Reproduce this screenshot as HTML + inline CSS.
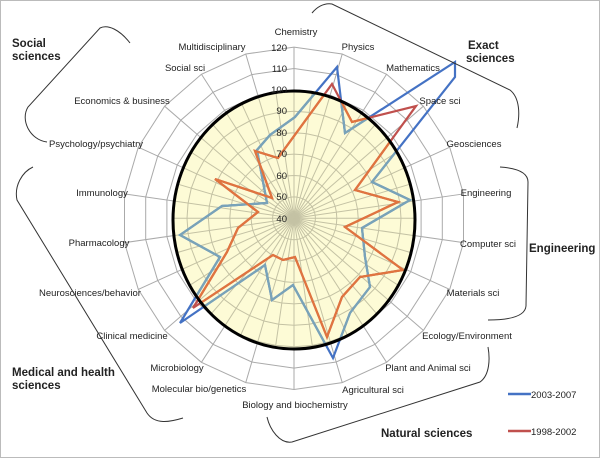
<!DOCTYPE html>
<html><head><meta charset="utf-8"><style>
html,body{margin:0;padding:0;background:#fff}
svg{display:block}
text{font-family:"Liberation Sans",sans-serif;fill:#222}
.l{font-size:9.5px}
.b{font-size:11.5px;font-weight:bold}
.v{font-size:9.5px;fill:#555}
</style></head><body>
<svg id="s" width="600" height="458" viewBox="0 0 600 458" xmlns="http://www.w3.org/2000/svg">
<rect x="0.5" y="0.5" width="599" height="457" fill="#fff" stroke="#bbb"/>
<defs><clipPath id="c"><ellipse cx="294" cy="220" rx="121" ry="129"/></clipPath></defs>
<g id="grid"></g>
<ellipse cx="294" cy="220" rx="121" ry="129" fill="#fdfbd6"/>
<g id="igrid" clip-path="url(#c)"></g>
<g fill="none" stroke-width="2.2" stroke-linejoin="miter">
<polygon stroke="#4472C4" points="295,117 337,67 345,133 455,62 455,77 372,182 410,200 362,228 365,257 370,287 350,313 333,358 293,285 272,300 265,265 180,323 220,257 180,235 222,206 267,203 257,150 270,135"/>
<polygon stroke="#C0504D" points="332,84 352,122 416,106 355,190 398,202 345,227 403,270 360,277 342,297 327,337 295,257 283,260 273,255 193,308 227,252 238,228 258,212 215,179 272,198 255,151 278,158"/>
<g clip-path="url(#c)">
<polygon stroke="#79a3b8" points="295,117 337,67 345,133 455,62 455,77 372,182 410,200 362,228 365,257 370,287 350,313 333,358 293,285 272,300 265,265 180,323 220,257 180,235 222,206 267,203 257,150 270,135"/>
<polygon stroke="#e0743f" points="332,84 352,122 416,106 355,190 398,202 345,227 403,270 360,277 342,297 327,337 295,257 283,260 273,255 193,308 227,252 238,228 258,212 215,179 272,198 255,151 278,158"/>
</g></g>
<ellipse cx="294" cy="220" rx="121" ry="129" fill="none" stroke="#000" stroke-width="3"/>
<g class="v" text-anchor="end">
<text x="287" y="51">120</text><text x="287" y="72">110</text><text x="287" y="93">100</text>
<text x="287" y="114">90</text><text x="287" y="136">80</text><text x="287" y="157">70</text>
<text x="287" y="179">60</text><text x="287" y="200">50</text><text x="287" y="222">40</text>
</g>
<g class="l" text-anchor="middle">
<text x="296" y="35">Chemistry</text>
<text x="358" y="50">Physics</text>
<text x="413" y="71">Mathematics</text>
<text x="440" y="104">Space sci</text>
<text x="474" y="147">Geosciences</text>
<text x="486" y="196">Engineering</text>
<text x="488" y="247">Computer sci</text>
<text x="473" y="296">Materials sci</text>
<text x="467" y="339">Ecology/Environment</text>
<text x="428" y="371">Plant and Animal sci</text>
<text x="373" y="393">Agricultural sci</text>
<text x="295" y="408">Biology and biochemistry</text>
<text x="199" y="392">Molecular bio/genetics</text>
<text x="177" y="371">Microbiology</text>
<text x="132" y="339">Clinical medicine</text>
<text x="90" y="296">Neurosciences/behavior</text>
<text x="99" y="246">Pharmacology</text>
<text x="102" y="196">Immunology</text>
<text x="96" y="147">Psychology/psychiatry</text>
<text x="122" y="104">Economics &amp; business</text>
<text x="185" y="71">Social sci</text>
<text x="212" y="50">Multidisciplinary</text>
</g>
<g class="b">
<text x="12" y="47">Social</text><text x="12" y="60">sciences</text>
<text x="468" y="49">Exact</text><text x="466" y="62">sciences</text>
<text x="529" y="252">Engineering</text>
<text x="381" y="437">Natural sciences</text>
<text x="12" y="376">Medical and health</text><text x="12" y="389">sciences</text>
</g>
<g fill="none" stroke="#333" stroke-width="1">
<path d="M130,43 C120,30 108,24 100,28 L28,107 C20,120 30,140 47,142"/>
<path d="M33,167 C22,172 14,186 17,200 L147,413 C155,425 170,422 183,418"/>
<path d="M267,417 C270,430 280,444 292,442 L480,382 C490,375 490,358 488,347"/>
<path d="M500,167 C515,168 528,172 528,182 L526,306 C525,318 505,320 488,320"/>
<path d="M312,13 C318,6 325,3 332,4 L510,90 C520,98 520,115 517,128"/>
</g>
<line x1="508" y1="394" x2="531" y2="394" stroke="#4472C4" stroke-width="2.5"/>
<line x1="508" y1="431" x2="531" y2="431" stroke="#C0504D" stroke-width="2.5"/>
<text class="l" x="531" y="398">2003-2007</text>
<text class="l" x="531" y="435">1998-2002</text>
</svg>
<script>
(function(){
var cx=294,cy=218.3,st=21.4,N=22,ns="http://www.w3.org/2000/svg";
var g=document.getElementById("grid"),ig=document.getElementById("igrid");
function el(p,t,a){var e=document.createElementNS(ns,t);for(var k in a)e.setAttribute(k,a[k]);p.appendChild(e);}
for(var k=1;k<=8;k++){var pts=[];for(var i=0;i<N;i++){var a=i*2*Math.PI/N;pts.push((cx+k*st*Math.sin(a)).toFixed(1)+","+(cy-k*st*Math.cos(a)).toFixed(1));}
el(g,"polygon",{points:pts.join(" "),fill:"none",stroke:"#aaa","stroke-width":1});}
for(var i=0;i<N;i++){var a=i*2*Math.PI/N;el(g,"line",{x1:cx,y1:cy,x2:cx+8*st*Math.sin(a),y2:cy-8*st*Math.cos(a),stroke:"#aaa","stroke-width":1});}
for(var k=1;k<=6;k++){var pts=[];for(var i=0;i<2*N;i++){var a=i*Math.PI/N;pts.push((cx+k*st*Math.sin(a)).toFixed(1)+","+(cy-k*st*Math.cos(a)).toFixed(1));}
el(ig,"polygon",{points:pts.join(" "),fill:"none",stroke:"#c4c2a4","stroke-width":1});}
for(var i=0;i<2*N;i++){var a=i*Math.PI/N;el(ig,"line",{x1:cx,y1:cy,x2:cx+140*Math.sin(a),y2:cy-140*Math.cos(a),stroke:"#c4c2a4","stroke-width":1});}
})();
</script>
</body></html>
